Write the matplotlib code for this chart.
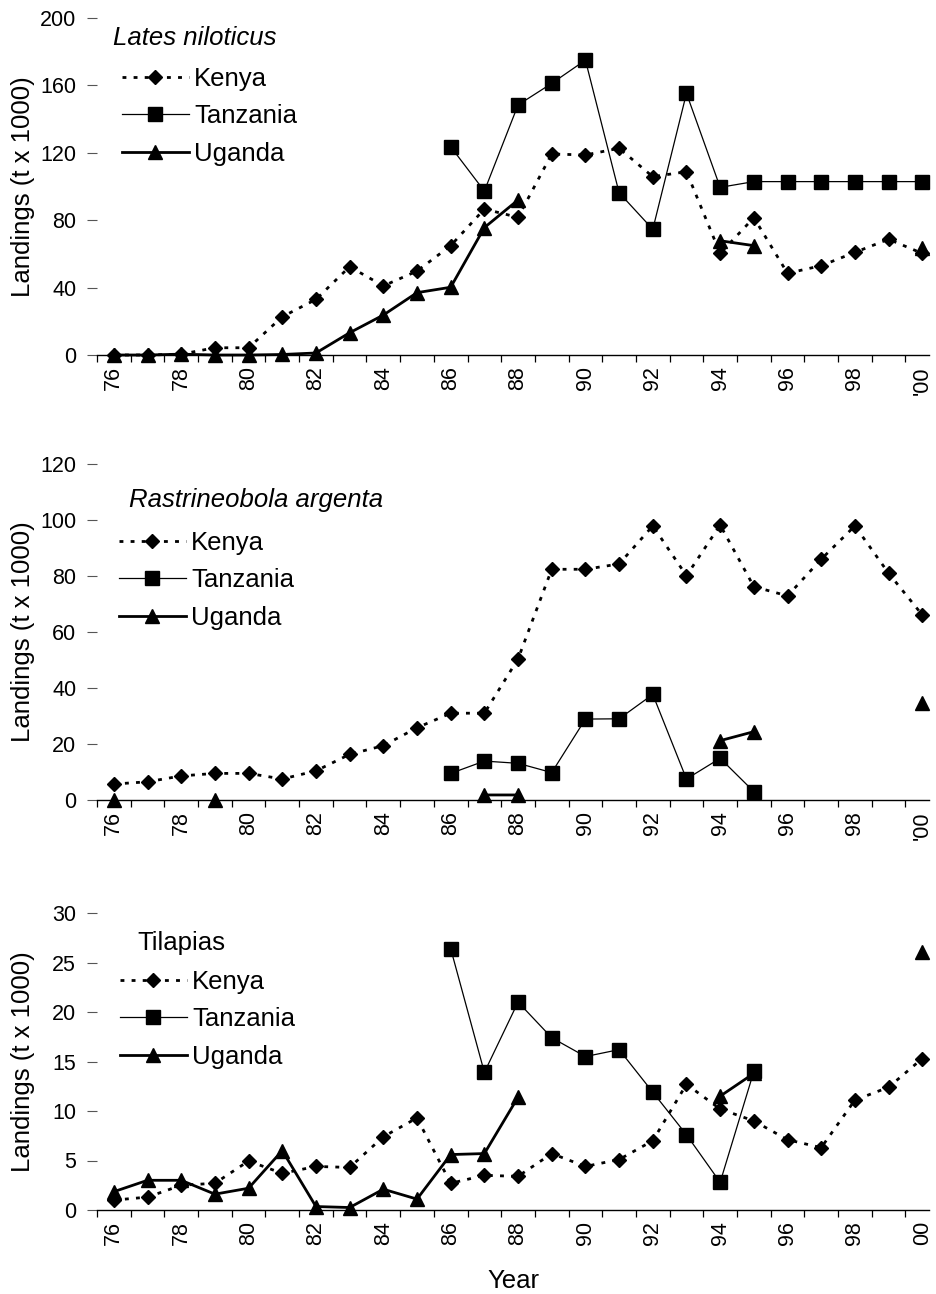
import numpy as np
import matplotlib
matplotlib.use("Agg")
import matplotlib.pyplot as plt

plt.rcParams['font.family'] = ['Liberation Sans', 'DejaVu Sans']

years = np.arange(76, 101)
nan = np.nan

# Lates niloticus (t x 1000)
lates_kenya = [0, 0, 0.5, 4.3, 4.3, 22.7, 33, 52.4, 41, 49.8, 64.9, 86.6, 81.7,
               119.3, 118.7, 122.7, 105.8, 108.8, 60.3, 81.5, 48.5, 53, 60.9, 68.7, 60.3]
lates_tanzania = [nan] * 10 + [123.6, 97.3, 148.4, 161.2, 175, 96.3, 74.6, 155.3,
                               99.5, 102.9, 102.9, 102.9, 102.9, 102.9, 102.9]
lates_uganda = [0, 0, 0.5, 0, 0, 0.3, 1.2, 13.2, 23.7, 37, 40.2, 75.6, 92,
                nan, nan, nan, nan, nan, 67.8, 64.9, nan, nan, nan, nan, 63.4]

# Rastrineobola argenta
rastr_kenya = [5.7, 6.5, 8.6, 9.5, 9.5, 7.5, 10.4, 16.3, 19.4, 25.8, 31, 31, 50.4,
               82.4, 82.4, 84.3, 97.9, 80.1, 98.2, 76.2, 72.9, 86, 97.9, 81, 66.1]
rastr_tanzania = [nan] * 10 + [9.5, 13.9, 13.1, 9.8, 28.9, 29, 37.7, 7.5, 14.9, 3.0,
                               nan, nan, nan, nan, nan]
rastr_uganda = [0, nan, nan, 0, nan, nan, nan, nan, nan, nan, nan, 1.8, 1.8,
                nan, nan, nan, nan, nan, 21.2, 24.4, nan, nan, nan, nan, 34.8]

# Tilapias
tila_kenya = [1.0, 1.3, 2.5, 2.7, 4.95, 3.7, 4.4, 4.3, 7.4, 9.3, 2.7, 3.5, 3.4,
              5.7, 4.4, 5.1, 7.0, 12.7, 10.2, 9.0, 7.1, 6.3, 11.1, 12.4, 15.3]
tila_tanzania = [nan] * 10 + [26.4, 13.9, 21.0, 17.4, 15.5, 16.2, 11.9, 7.6, 2.8, 14.0,
                              nan, nan, nan, nan, nan]
tila_uganda = [1.85, 3.0, 3.0, 1.6, 2.2, 6.0, 0.35, 0.25, 2.1, 1.1, 5.6, 5.7, 11.4,
               nan, nan, nan, nan, nan, 11.5, 13.8, nan, nan, nan, nan, 26.1]

countries = ['Kenya', 'Tanzania', 'Uganda']
titles = ['Lates niloticus', 'Rastrineobola argenta', 'Tilapias']
title_italic = [True, True, False]
ymaxes = [200, 120, 30]
ysteps = [40, 20, 5]
last_labels = ["'00", "'00", "00"]
panels = [
    (lates_kenya, lates_tanzania, lates_uganda),
    (rastr_kenya, rastr_tanzania, rastr_uganda),
    (tila_kenya, tila_tanzania, tila_uganda),
]

W, H = 937, 1294
fig = plt.figure(figsize=(W / 100, H / 100), dpi=100)

# axes boxes in pixels: left, right, top, bottom
boxes = [(97, 929, 18, 355), (97, 929, 464, 800), (97, 929, 913, 1210)]
title_pos = [(113, 38, 'left'), (256, 500, 'center'), (137, 943, 'left')]
legend_pos = [(122, 67), (119, 531), (120, 970)]

styles = [
    dict(marker='D', ms=7.5, lw=2.0, linestyle=(0, (1.4, 2.6)), dash_capstyle='butt'),
    dict(marker='s', ms=9.5, lw=0.9, linestyle='-'),
    dict(marker='^', ms=10, lw=2.0, linestyle='-'),
]

for i, (series, box) in enumerate(zip(panels, boxes)):
    l, r, t, b = box
    ax = fig.add_axes([l / W, 1 - b / H, (r - l) / W, (b - t) / H])
    handles = []
    for vals, name, st in zip(series, countries, styles):
        h, = ax.plot(years, vals, color='black', mfc='black', mec='black',
                     clip_on=False, label=name, zorder=3, **st)
        handles.append(h)

    ax.set_xlim(75.5, 100.2)
    ax.set_ylim(0, ymaxes[i])
    ax.set_yticks(np.arange(0, ymaxes[i] + 1, ysteps[i]))
    ax.tick_params(axis='y', length=7, width=0.8, pad=8, labelsize=15.5, color='#555555')

    even = years[::2]
    labels = [str(y) for y in even[:-1]] + [last_labels[i]]
    ax.set_xticks(even)
    ax.set_xticklabels(labels, rotation=90, fontsize=15.5)
    ax.set_xticks(np.arange(75.5, 100.5, 1), minor=True)
    ax.tick_params(axis='x', which='major', length=0, pad=8)
    ax.tick_params(axis='x', which='minor', length=5, width=0.9)

    for s in ['top', 'right', 'left']:
        ax.spines[s].set_visible(False)
    ax.spines['bottom'].set_linewidth(1.0)

    ax.set_ylabel('Landings (t x 1000)', fontsize=18.5)
    ax.yaxis.set_label_coords((35 - l) / (r - l), 0.5)

    tx, ty, ha = title_pos[i]
    fig.text(tx / W, 1 - ty / H, titles[i], fontsize=18.5, ha=ha, va='center',
             style='italic' if title_italic[i] else 'normal')

    lx, ly = legend_pos[i]
    ax.legend(handles=handles, loc='upper left', bbox_to_anchor=(lx / W, 1 - ly / H),
              bbox_transform=fig.transFigure, frameon=False, fontsize=18.5,
              handlelength=2.6, handletextpad=0.2, labelspacing=0.52,
              borderpad=0, borderaxespad=0)

    if i == 2:
        ax.set_xlabel('Year', fontsize=18.5, labelpad=17)

fig.savefig('out.png', dpi=100)
